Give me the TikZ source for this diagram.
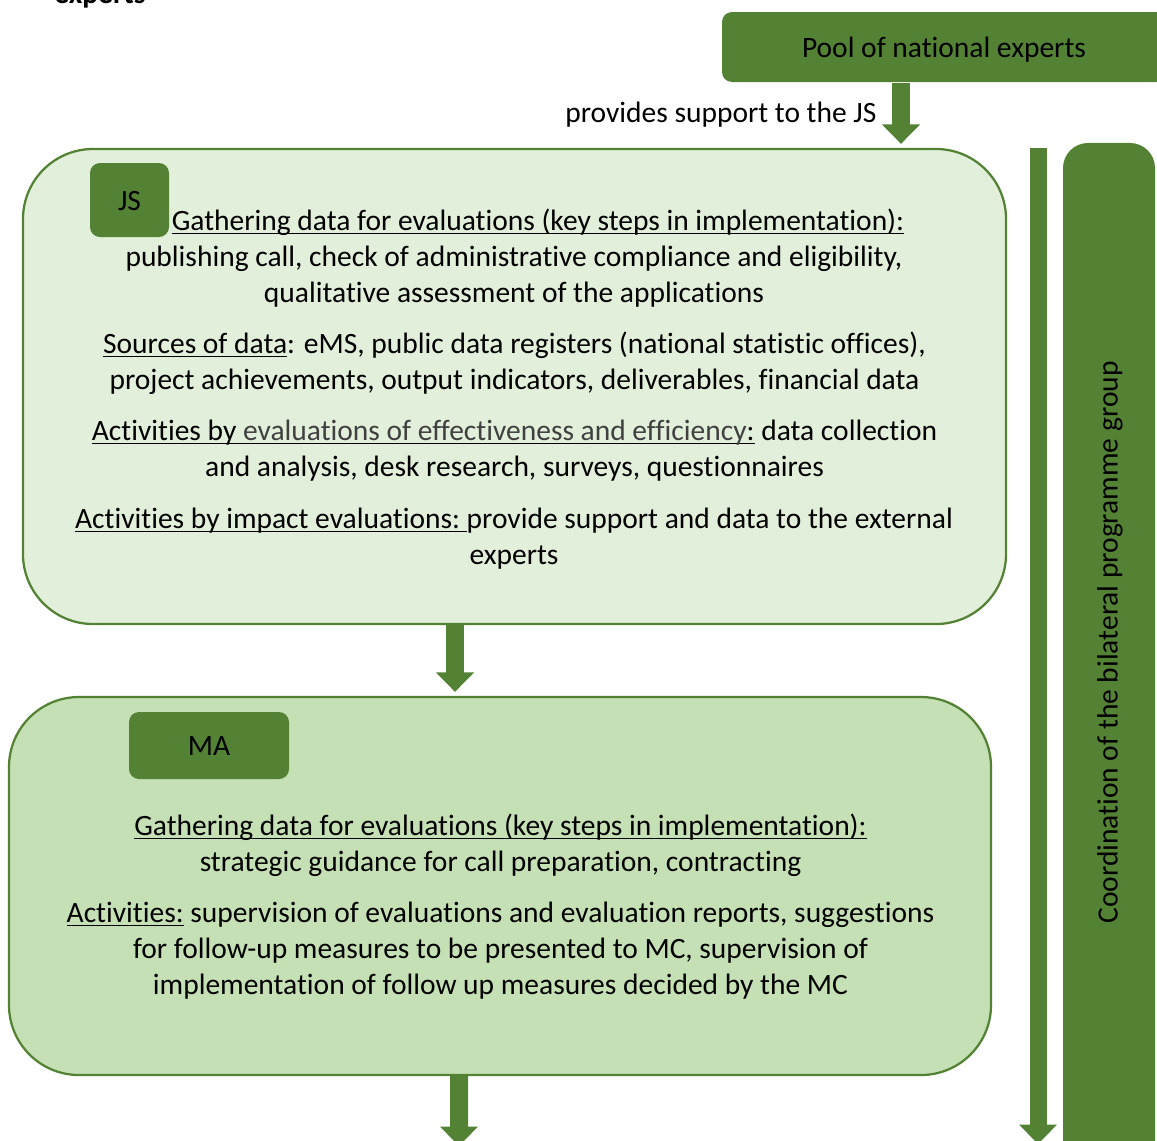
\documentclass[tikz,border=0pt]{standalone}
\usepackage{fontspec}
\setmainfont{Carlito}[Ligatures=NoCommon]
\usepackage{tikz}
\usetikzlibrary{arrows.meta,positioning,calc}
\definecolor{darkgreen}{HTML}{548235}
\definecolor{palegreen}{HTML}{E2EFDA}
\definecolor{midgreen}{HTML}{C5E0B4}
\definecolor{textgray}{HTML}{404040}
\newcommand\uln[1]{\leavevmode\setbox0\hbox{#1}\rlap{\rule[-1.4pt]{\wd0}{0.5pt}}\box0\relax}

\begin{document}
\begin{tikzpicture}[x=0.4pt,y=-0.4pt,
  font=\fontsize{11.8}{14.4}\selectfont,
  tag/.style={fill=darkgreen,rounded corners=4pt,inner sep=0pt,text height=8pt,text depth=0pt},
  bigbox/.style={draw=darkgreen,line width=0.9pt,rounded corners=28pt,inner sep=0pt},
  para/.style={align=center,inner sep=0pt},
  blockarrow/.style={draw=darkgreen,line width=7.2pt,-{Triangle[width=14.8pt,length=7.8pt]}}]
\useasboundingbox (0,0) rectangle (1157,1140);
\node[font=\fontsize{11.8}{14.4}\selectfont\bfseries,anchor=base] (cut) at (100,3) {experts};
\node[tag,minimum width=177.6pt,minimum height=28pt] (pool) at (944,47) {Pool of national experts};
\node[anchor=east,inner sep=0pt] (support) at (877,115) {provides support to the JS};
\node[bigbox,fill=palegreen,minimum width=393.2pt,minimum height=190pt] (jsbox) at (514.5,386.5) {};
\node[tag,minimum width=31.6pt,minimum height=29.6pt] (js) at (129.5,200) {JS};
\node[para] (jsgather) at (514,258) {\hspace*{19.2pt}\uln{Gathering data for evaluations (key steps in implementation):}\\
publishing call, check of administrative compliance and eligibility,\\
qualitative assessment of the applications};
\node[para] (jssources) at (514.5,363) {\uln{Sources of data}: eMS, public data registers (national statistic offices),\\
project achievements, output indicators, deliverables, financial data};
\node[para] (jseffect) at (514.5,451) {\uln{Activities by \textcolor{textgray}{evaluations of effectiveness and efficiency}:} data collection\\
and analysis, desk research, surveys, questionnaires};
\node[para] (jsimpact) at (514,538.5) {\uln{Activities by impact evaluations:\ }provide support and data to the external\\
experts};
\node[bigbox,fill=midgreen,minimum width=392.8pt,minimum height=151.2pt] (mabox) at (500,886) {};
\node[tag,minimum width=64pt,minimum height=26.8pt] (ma) at (209,745.5) {MA};
\node[para] (magather) at (500.5,845) {\uln{Gathering data for evaluations (key steps in implementation):}\\
strategic guidance for call preparation, contracting};
\node[para] (maactiv) at (500.5,951) {\uln{Activities:} supervision of evaluations and evaluation reports, suggestions\\
for follow-up measures to be presented to MC, supervision of\\
implementation of follow up measures decided by the MC};
\node[tag,rounded corners=10pt,minimum width=36.8pt,minimum height=422.8pt] (group) at (1109,671.5) {};
\node[rotate=90] (grouptext) at (1110,642.5) {Coordination of the bilateral programme group};
\coordinate (coordtop) at (1038,148);
\coordinate (coordend) at (1038,1144);
\coordinate (maout) at (459,1146);
\draw[blockarrow,shorten >=1.6pt] ([xshift=-17.2pt]pool.south) -- ([xshift=-17.2pt]pool.south |- jsbox.north);
\draw[blockarrow,shorten >=1.6pt] ([xshift=-23.8pt]jsbox.south) -- ([xshift=-23.8pt]jsbox.south |- mabox.north);
\draw[blockarrow] ([xshift=-16.4pt]mabox.south) -- (maout);
\draw[blockarrow,line width=6.8pt] (coordtop) -- (coordend);
\end{tikzpicture}
\end{document}
